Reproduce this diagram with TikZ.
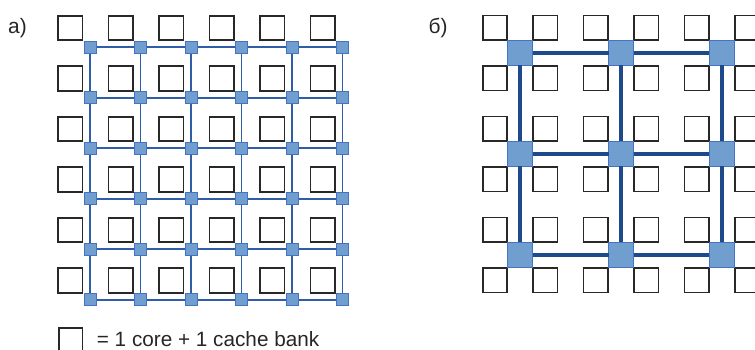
\documentclass[tikz,border=0pt]{standalone}
\usepackage{fontspec}
\setmainfont{Liberation Sans}
\definecolor{routerfill}{RGB}{112,158,207}
\definecolor{routerdraw}{RGB}{68,114,196}
\definecolor{linkthin}{RGB}{47,94,166}
\definecolor{linkthick}{RGB}{30,74,140}
\definecolor{coredraw}{RGB}{40,40,40}
\tikzset{
  core/.style={draw=coredraw, line width=1.6bp, fill=white, minimum size=24.5bp, inner sep=0pt, outer sep=0pt},
  routersmall/.style={draw=routerdraw, line width=1bp, fill=routerfill, minimum size=12bp, inner sep=0pt, outer sep=0pt},
  routerbig/.style={draw=routerdraw, line width=1bp, fill=routerfill, minimum size=25bp, inner sep=0pt, outer sep=0pt},
  linka/.style={draw=linkthin, line width=1.8bp},
  linkb/.style={draw=linkthick, line width=3.5bp},
  panellabel/.style={anchor=base west, inner sep=0pt, font=\fontsize{21}{24}\selectfont, text=black!85},
  legendtext/.style={anchor=base west, inner sep=0pt, font=\fontsize{20.8}{24}\selectfont, text=black!85}
}
\begin{document}
\begin{tikzpicture}[x=1bp, y=-1bp]
\useasboundingbox (0,0) rectangle (755,349);
\clip (0,0) rectangle (755,349);

% panel labels
\node[panellabel] (la) at (8,33.3) {a)};
\node[panellabel] (lb) at (428.5,33.3) {б)};

% ---- panel a: 6x6 tiles, one small router per tile ----
\foreach \i in {0,...,5}
  \foreach \j in {0,...,5}
    \node[core] (ca-\i-\j) at ({70.3+50.5*\i},{28+50.5*\j}) {};
\foreach \i in {0,...,5}
  \foreach \j in {0,...,5}
    \coordinate (pa-\i-\j) at ({90+50.5*\i},{47.3+50.5*\j});
% mesh links
\foreach \i [evaluate=\i as \n using int(\i+1)] in {0,...,4}
  \foreach \j in {0,...,5} {
    \draw[linka] (pa-\i-\j) -- (pa-\n-\j);
    \draw[linka] (pa-\j-\i) -- (pa-\j-\n);
  }
\foreach \i in {0,...,5}
  \foreach \j in {0,...,5}
    \node[routersmall] (ra-\i-\j) at (pa-\i-\j) {};

% ---- panel b: 6x6 tiles, one big router per 2x2 cluster ----
\foreach \i in {0,...,5}
  \foreach \j in {0,...,5}
    \node[core] (cb-\i-\j) at ({495+50.4*\i},{27.6+50.5*\j}) {};
\foreach \i in {0,...,2}
  \foreach \j in {0,...,2}
    \node[routerbig] (rb-\i-\j) at ({520.2+100.8*\i},{52.85+101*\j}) {};
\foreach \i [evaluate=\i as \n using int(\i+1)] in {0,1}
  \foreach \j in {0,...,2} {
    \draw[linkb] (rb-\i-\j) -- (rb-\n-\j);
    \draw[linkb] (rb-\j-\i) -- (rb-\j-\n);
  }

% legend
\node[core, minimum size=23.5bp] (lg) at (70.8,339.5) {};
\node[legendtext] (lgt) at (96.7,346) {= 1 core + 1 cache bank};
\end{tikzpicture}
\end{document}
